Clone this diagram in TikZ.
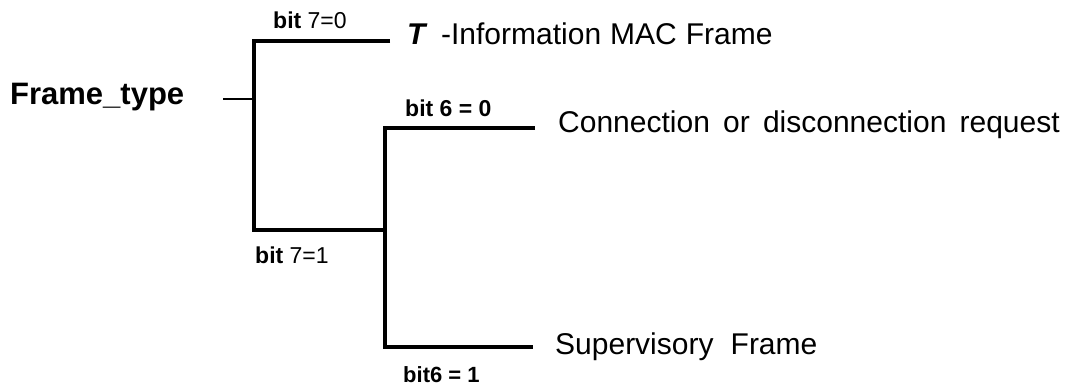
\documentclass[tikz,border=0pt]{standalone}
\usepackage{fontspec}
\setmainfont{Liberation Sans}
\usetikzlibrary{positioning}

\tikzset{
  branch/.style={line width=3.5pt},
  lead/.style={line width=2.5pt},
  bitlabel/.style={font=\fontsize{23}{27}\selectfont, inner sep=0pt, anchor=base west},
  leaf/.style={font=\fontsize{30}{36}\selectfont, inner sep=0pt, anchor=base west,
    execute at begin node={\spaceskip=#1\relax}},
  leaf/.default=0.3em
}

\begin{document}
\begin{tikzpicture}[x=1pt,y=-1pt]
  \useasboundingbox (0,0) rectangle (1066,387);

  % field name and the short lead into the tree
  \node[font=\fontsize{31}{36}\selectfont\bfseries, inner sep=0pt, anchor=base west]
    (frametype) at (10,105) {Frame\_type};
  \coordinate (leadin) at (223,99);
  \coordinate (b7) at (254,99);

  % bit 7 fork
  \coordinate (b7top) at (254,41);
  \coordinate (b7bot) at (254,230);
  \coordinate (info end) at (390,41);
  % bit 6 fork
  \coordinate (b6) at (385,230);
  \coordinate (b6top) at (385,128);
  \coordinate (b6bot) at (385,347);
  \coordinate (conn end) at (535,128);
  \coordinate (super end) at (533,347);

  % leaves
  \node[leaf] (info) at ([shift={(17,4)}]info end)
    {\textbf{\textit{T}}\hspace{0.15em} -Information MAC Frame};
  \node[leaf=0.44em] (conn) at ([shift={(23,5)}]conn end)
    {Connection or disconnection request};
  \node[leaf=0.57em] (super) at ([shift={(22,8)}]super end)
    {Supervisory Frame};

  % bit labels
  \node[bitlabel] (bit70) at (273,29) {\textbf{bit} 7=0};
  \node[bitlabel] (bit71) at (255,264) {\textbf{bit} 7=1};
  \node[bitlabel, font=\fontsize{23}{27}\selectfont\bfseries] (bit60) at (405,117) {bit 6 = 0};
  \node[bitlabel, font=\fontsize{22}{26}\selectfont\bfseries] (bit61) at (403,383) {bit6 = 1};

  \draw[lead] (leadin) -- (b7);
  \draw[branch] (info end) -- (b7top) -- (b7bot) -- (b6);
  \draw[branch] (conn end) -- (b6top) -- (b6bot) -- (super end);
\end{tikzpicture}
\end{document}
